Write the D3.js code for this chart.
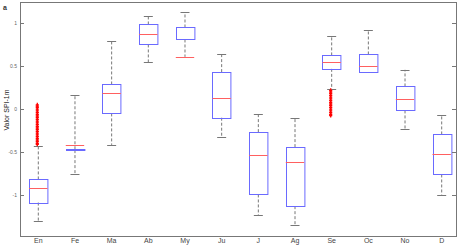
<!DOCTYPE html>
<html>
<head>
<meta charset="utf-8">
<script src="https://cdn.jsdelivr.net/npm/d3@7"></script>
<style>
body{margin:0;background:#fff;}
svg{display:block;font-family:"Liberation Sans",Arial,sans-serif;}
</style>
</head>
<body>
<svg id="chart" width="464" height="245"></svg>
<script>
// monthly SPI-1m box plot values
const months=["En","Fe","Ma","Ab","My","Ju","J","Ag","Se","Oc","No","D"];
const whiskLow=[-1.30,-0.755,-0.417,0.545,0.61,-0.327,-1.237,-1.357,0.23,0.428,-0.23,-1.0];
const q1=[-1.09,-0.478,-0.05,0.755,0.813,-0.10,-0.995,-1.132,0.47,0.428,-0.015,-0.762];
const median=[-0.925,-0.424,0.183,0.872,0.61,0.132,-0.537,-0.622,0.545,0.498,0.113,-0.529];
const q3=[-0.82,-0.468,0.288,0.988,0.953,0.432,-0.268,-0.443,0.627,0.638,0.265,-0.295];
const whiskHigh=[-0.43,0.167,0.80,1.085,1.128,0.638,-0.062,-0.10,0.848,0.918,0.459,-0.074];
const outliersEn=[0.05,0.035,0.02,0.0,-0.02,-0.04,-0.06,-0.08,-0.10,-0.12,-0.14,-0.16,-0.18,-0.20,-0.22,-0.24,-0.26,-0.28,-0.30,-0.32,-0.34,-0.36,-0.38,-0.40,-0.41];
const outliersSe=[0.22,0.20,0.18,0.16,0.14,0.12,0.10,0.08,0.06,0.04,0.02,0.0,-0.02,-0.04,-0.06,-0.075];
const yTicks=[-1,-0.5,0,0.5,1];

const svg=d3.select("#chart");
const pLeft=20,pRight=456,pTop=2,pBottom=236;

const x=d3.scalePoint().domain(months).range([38.3,441.7]);
const y=d3.scaleLinear().domain([-1.48,1.25]).range([pBottom,pTop]);
const bw=18.4,cw=9;

svg.append("rect").attr("width",464).attr("height",245).attr("fill","#fff");

const g=svg.append("g");
const rows=months.map(function(m,i){
	return {m:m,lo:whiskLow[i],q1:q1[i],med:median[i],q3:q3[i],hi:whiskHigh[i]};
});

// whiskers
g.selectAll("line.wu").data(rows).enter().append("line")
	.attr("x1",d=>x(d.m)).attr("x2",d=>x(d.m))
	.attr("y1",d=>y(d.q3)).attr("y2",d=>y(d.hi))
	.attr("stroke","#777").attr("stroke-dasharray","3,2");
g.selectAll("line.wl").data(rows).enter().append("line")
	.attr("x1",d=>x(d.m)).attr("x2",d=>x(d.m))
	.attr("y1",d=>y(d.q1)).attr("y2",d=>y(d.lo))
	.attr("stroke","#777").attr("stroke-dasharray","3,2");
// caps
["hi","lo"].forEach(function(k){
	g.selectAll("line.cap"+k).data(rows).enter().append("line")
		.attr("x1",d=>x(d.m)-cw/2).attr("x2",d=>x(d.m)+cw/2)
		.attr("y1",d=>Math.round(y(d[k]))+0.5).attr("y2",d=>Math.round(y(d[k]))+0.5)
		.attr("stroke","#777");
});
// boxes
g.selectAll("rect.box").data(rows).enter().append("rect")
	.attr("x",d=>Math.round(x(d.m)-bw/2)+0.5)
	.attr("y",d=>Math.round(y(d.q3))+0.5)
	.attr("width",bw)
	.attr("height",d=>Math.max(1,Math.round(y(d.q1))-Math.round(y(d.q3))))
	.attr("fill","none").attr("stroke","#6a6aff");
// medians
g.selectAll("line.med").data(rows).enter().append("line")
	.attr("x1",d=>x(d.m)-bw/2).attr("x2",d=>x(d.m)+bw/2)
	.attr("y1",d=>Math.round(y(d.med))+0.5).attr("y2",d=>Math.round(y(d.med))+0.5)
	.attr("stroke","#ff6060");

// outliers as red plus marks
function plus(vals,m){
	g.selectAll(null).data(vals).enter().append("path")
		.attr("d",function(v){const cx=x(m)-1,cy=y(v);return "M"+(cx-1.6)+","+cy+"H"+(cx+1.6)+"M"+cx+","+(cy-2)+"V"+(cy+2);})
		.attr("stroke","#ff0000").attr("stroke-width",1.3).attr("fill","none");
}
plus(outliersEn,"En");
plus(outliersSe,"Se");

// frame
svg.append("rect").attr("x",pLeft+0.5).attr("y",pTop+0.5)
	.attr("width",pRight-pLeft).attr("height",pBottom-pTop)
	.attr("fill","none").attr("stroke","#777");

// y axis ticks inside, both sides
const ya=svg.append("g");
ya.selectAll("line.tl").data(yTicks).enter().append("line")
	.attr("x1",pLeft).attr("x2",pLeft+4)
	.attr("y1",d=>Math.round(y(d))+0.5).attr("y2",d=>Math.round(y(d))+0.5)
	.attr("stroke","#777");
ya.selectAll("line.tr").data(yTicks).enter().append("line")
	.attr("x1",pRight-4).attr("x2",pRight)
	.attr("y1",d=>Math.round(y(d))+0.5).attr("y2",d=>Math.round(y(d))+0.5)
	.attr("stroke","#777");
ya.selectAll("text").data(yTicks).enter().append("text")
	.attr("x",pLeft-3).attr("y",d=>y(d)+2)
	.attr("text-anchor","end").attr("font-size","5px").attr("fill","#666")
	.text(d=>d);

// x labels
svg.append("g").selectAll("text").data(months).enter().append("text")
	.attr("x",d=>x(d)).attr("y",243)
	.attr("text-anchor","middle").attr("font-size","7px").attr("fill","#444")
	.text(d=>d);

// y label
svg.append("text")
	.attr("transform","translate(9,110) rotate(-90)")
	.attr("text-anchor","middle").attr("font-size","7px").attr("fill","#222")
	.text("Valor SPI-1m");

svg.append("text").attr("x",3).attr("y",10)
	.attr("font-size","7px").attr("font-weight","bold").attr("fill","#333").text("a");
</script>
</body>
</html>
